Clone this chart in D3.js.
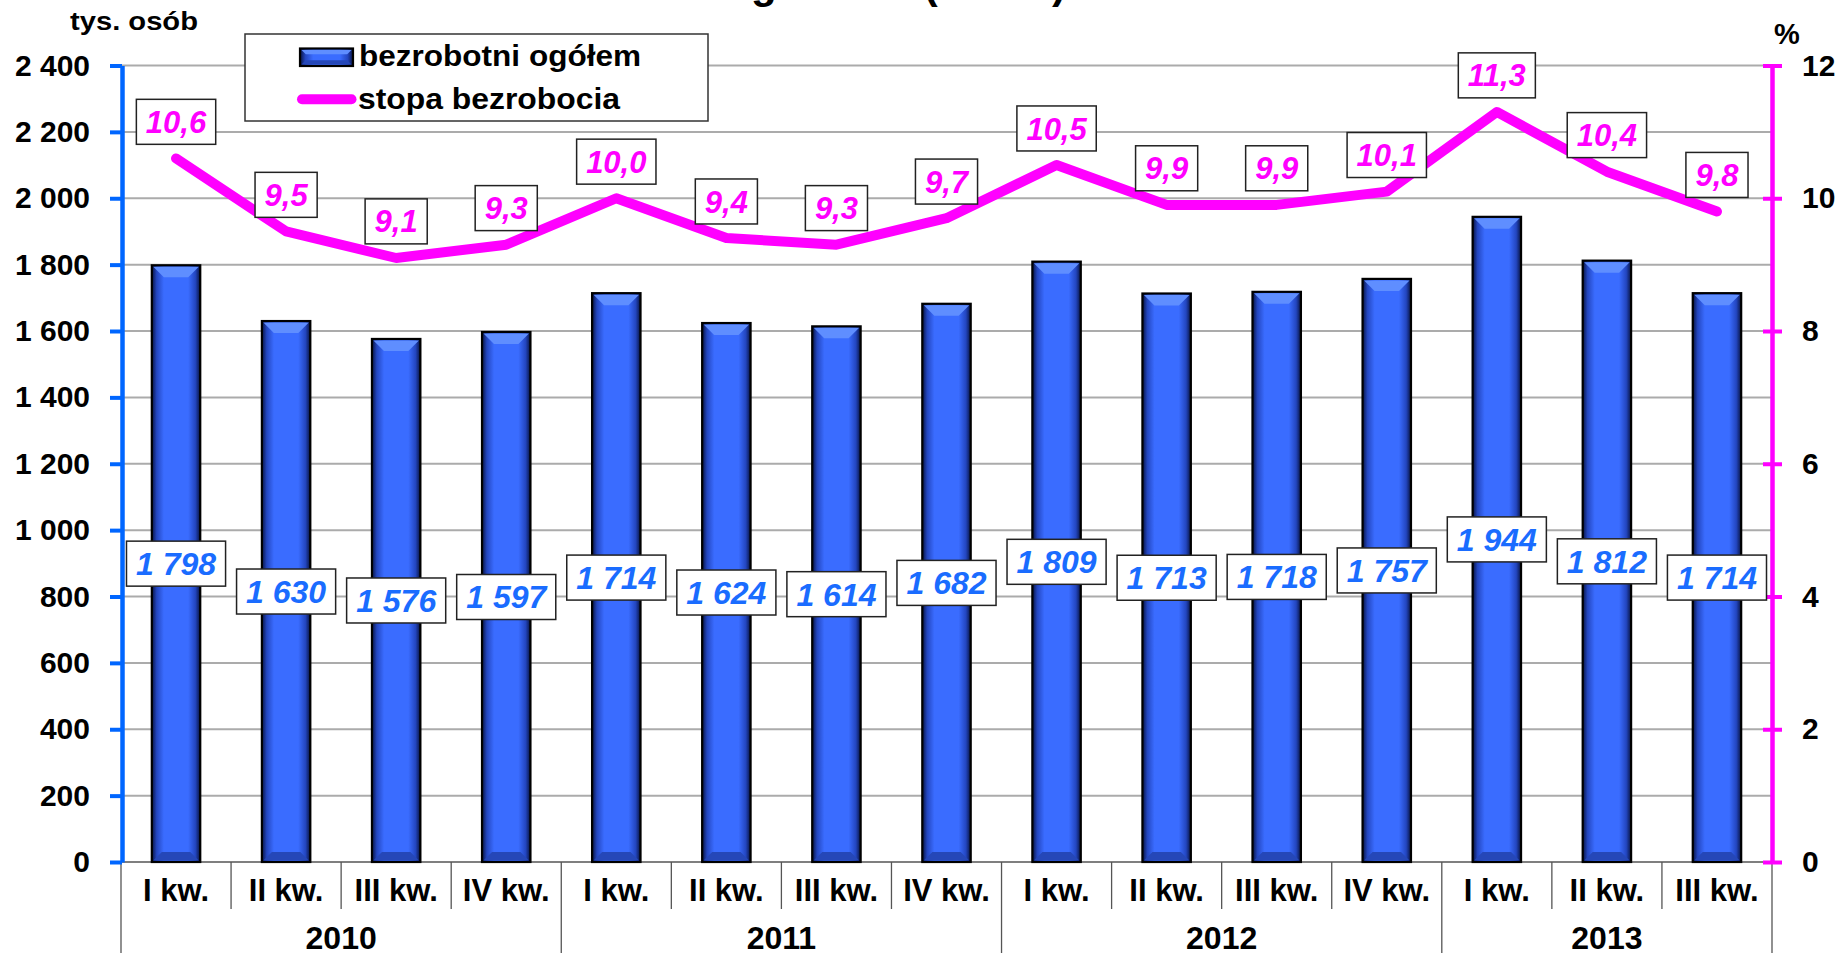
<!DOCTYPE html>
<html><head><meta charset="utf-8">
<script src="https://cdn.jsdelivr.net/npm/d3@7"></script>
<style>html,body{margin:0;padding:0;background:#fff;overflow:hidden}</style>
</head><body><svg id="c" width="1839" height="953"></svg>
<script>
const quarters = ["I kw.","II kw.","III kw.","IV kw.","I kw.","II kw.","III kw.","IV kw.","I kw.","II kw.","III kw.","IV kw.","I kw.","II kw.","III kw."];
const years = ["2010","2011","2012","2013"];
const unemployed = [1798,1630,1576,1597,1714,1624,1614,1682,1809,1713,1718,1757,1944,1812,1714];
const rate = [10.6,9.5,9.1,9.3,10.0,9.4,9.3,9.7,10.5,9.9,9.9,10.1,11.3,10.4,9.8];
const leftTicks = [0,200,400,600,800,1000,1200,1400,1600,1800,2000,2200,2400];
const rightTicks = [0,2,4,6,8,10,12];
const seriesNames = ["bezrobotni ogółem","stopa bezrobocia"];
const titleText = "Bezrobocie według badań (BAEL)";
const leftUnit = "tys. osób";
const rightUnit = "%";

const FONT = "'Liberation Sans', Arial, sans-serif";
const BLUE_AX = "#0066ff", MAG = "#ff00ff", LBL_BLUE = "#1a6cff";
const svg = d3.select("#c");
const loc = d3.formatLocale({thousands:"\u00a0", grouping:[3], decimal:",", currency:["",""]});
const fmtInt = v => loc.format(",d")(v).replace(/\u00a0/g," ");
const fmtRate = loc.format(".1f");

const L = 121, R = 1772, TOP = 65.5, BOT = 862;
const x = d3.scaleBand().domain(d3.range(quarters.length)).range([L, R]).padding(0);
const yL = d3.scaleLinear().domain([0, 2400]).range([BOT, TOP]);
const yR = d3.scaleLinear().domain([0, 12]).range([BOT, TOP]);
const bw = x.bandwidth();
const cx = i => x(i) + bw / 2;

// defs
const defs = svg.append("defs");
const g1 = defs.append("linearGradient").attr("id","barGrad").attr("x1","0").attr("x2","1").attr("y1","0").attr("y2","0");
[[0,"#07123f"],[0.1,"#2346c0"],[0.25,"#3a6cff"],[0.75,"#3a6cff"],[0.9,"#2346c0"],[1,"#07123f"]]
  .forEach(s => g1.append("stop").attr("offset", s[0]).attr("stop-color", s[1]));

// title (mostly cut off at the top)
svg.append("text").attr("x", 1066).attr("y", -2).attr("text-anchor","end")
  .attr("font-family", FONT).attr("font-weight","bold").attr("font-size", 42).text(titleText);

// gridlines
svg.append("g").selectAll("line").data(leftTicks.filter(t => t > 0)).join("line")
  .attr("x1", L).attr("x2", R).attr("y1", d => yL(d)).attr("y2", d => yL(d))
  .attr("stroke", "#ababab").attr("stroke-width", 2);

// category axis
const cat = svg.append("g");
cat.append("line").attr("x1", L).attr("x2", R).attr("y1", BOT).attr("y2", BOT).attr("stroke","#555").attr("stroke-width",1.5);
d3.range(quarters.length + 1).forEach(i => {
  const xx = i < quarters.length ? x(i) : R;
  const isYear = (i % 4 === 0) || i === quarters.length;
  cat.append("line").attr("x1", xx).attr("x2", xx).attr("y1", BOT).attr("y2", isYear ? 953 : 909)
    .attr("stroke","#555").attr("stroke-width",1.3);
});
cat.selectAll("text.q").data(quarters).join("text").attr("class","q")
  .attr("x", (d,i) => cx(i)).attr("y", 901).attr("text-anchor","middle")
  .attr("font-family", FONT).attr("font-weight","bold").attr("font-size", 31).text(d => d);
cat.selectAll("text.y").data(years).join("text").attr("class","y")
  .attr("x", (d,k) => { const a = x(4*k); const b = Math.min(4*k+3, quarters.length-1); return (a + x(b) + bw) / 2; })
  .attr("y", 949).attr("text-anchor","middle")
  .attr("font-family", FONT).attr("font-weight","bold").attr("font-size", 32).text(d => d);

// bars
const barW = bw * 0.44;
function drawBar(g, bx, top, w, bottom) {
  const h = bottom - top;
  g.append("rect").attr("x", bx).attr("y", top).attr("width", w).attr("height", h)
    .attr("fill", "url(#barGrad)");
  const bev = Math.min(12, h / 3);
  g.append("path").attr("d", `M${bx+1.5},${top+1.5}H${bx+w-1.5}L${bx+w-bev},${top+bev}H${bx+bev}Z`)
    .attr("fill", "#5f8eff");
  const bb = Math.min(10, h / 3);
  g.append("path").attr("d", `M${bx+1.5},${bottom-1.5}H${bx+w-1.5}L${bx+w-bb},${bottom-bb}H${bx+bb}Z`)
    .attr("fill", "#2547b8");
  g.append("rect").attr("x", bx).attr("y", top).attr("width", w).attr("height", h)
    .attr("fill", "none").attr("stroke", "#000").attr("stroke-width", 2.2);
}
const bars = svg.append("g");
unemployed.forEach((v, i) => drawBar(bars.append("g"), x(i) + (bw - barW)/2, yL(v), barW, BOT));

// left axis
const axL = svg.append("g").attr("transform", `translate(122,0)`)
  .call(d3.axisLeft(yL).tickValues(leftTicks).tickFormat(fmtInt).tickSizeInner(12).tickSizeOuter(0).tickPadding(20));
axL.select(".domain").attr("stroke", BLUE_AX).attr("stroke-width", 4.5);
axL.selectAll(".tick line").attr("stroke", BLUE_AX).attr("stroke-width", 4);
axL.selectAll(".tick text").attr("font-family", FONT).attr("font-weight","bold").attr("font-size", 30).attr("fill","#000");

// right axis
const axR = svg.append("g").attr("transform", `translate(1772,0)`)
  .call(d3.axisRight(yR).tickValues(rightTicks).tickFormat(d3.format("d")).tickSizeInner(10).tickSizeOuter(0).tickPadding(20));
axR.select(".domain").attr("stroke", MAG).attr("stroke-width", 4.5);
axR.selectAll(".tick line").attr("stroke", MAG).attr("stroke-width", 4).attr("x1", -9);
axR.selectAll(".tick text").attr("font-family", FONT).attr("font-weight","bold").attr("font-size", 30).attr("fill","#000");

// axis units
svg.append("text").attr("x", 70).attr("y", 30).attr("font-family", FONT).attr("font-weight","bold")
  .attr("font-size", 25).attr("textLength", 128).attr("lengthAdjust","spacingAndGlyphs").text(leftUnit);
svg.append("text").attr("x", 1787).attr("y", 44).attr("text-anchor","middle").attr("font-family", FONT)
  .attr("font-weight","bold").attr("font-size", 29).text(rightUnit);

// line
const line = d3.line().x((d,i) => cx(i)).y(d => yR(d));
svg.append("path").datum(rate).attr("d", line).attr("fill","none").attr("stroke", MAG)
  .attr("stroke-width", 10).attr("stroke-linejoin","round").attr("stroke-linecap","round");

// label helper
function boxLabel(parent, cxp, cyp, txt, color, fs) {
  const g = parent.append("g");
  const r = g.append("rect").attr("fill","#fff").attr("stroke","#222").attr("stroke-width",1.5);
  const t = g.append("text").attr("x", cxp).attr("y", cyp + 0.358*fs).attr("text-anchor","middle")
    .attr("font-family", FONT).attr("font-weight","bold").attr("font-style","italic")
    .attr("font-size", fs).attr("fill", color).text(txt);
  const w = t.node().getComputedTextLength() + 19;
  r.attr("x", cxp - w/2).attr("y", cyp - 22.5).attr("width", w).attr("height", 45);
}
const labels = svg.append("g");
unemployed.forEach((v, i) => boxLabel(labels, cx(i), (yL(v) + yL(0)) / 2, fmtInt(v), LBL_BLUE, 32));
rate.forEach((v, i) => boxLabel(labels, cx(i), yR(v) - 36.6, fmtRate(v), MAG, 31));

// legend
const lg = svg.append("g");
lg.append("rect").attr("x", 245).attr("y", 34).attr("width", 463).attr("height", 87)
  .attr("fill","#fff").attr("stroke","#333").attr("stroke-width",1.5);
drawBar(lg.append("g"), 300, 48.5, 53, 66);
lg.append("text").attr("x", 359).attr("y", 66).attr("font-family", FONT).attr("font-weight","bold")
  .attr("font-size", 29).attr("textLength", 282).attr("lengthAdjust","spacingAndGlyphs").text(seriesNames[0]);
lg.append("line").attr("x1", 302).attr("x2", 351.5).attr("y1", 99.3).attr("y2", 99.3)
  .attr("stroke", MAG).attr("stroke-width", 10).attr("stroke-linecap","round");
lg.append("text").attr("x", 358).attr("y", 109).attr("font-family", FONT).attr("font-weight","bold")
  .attr("font-size", 29).attr("textLength", 262).attr("lengthAdjust","spacingAndGlyphs").text(seriesNames[1]);
</script></body></html>
